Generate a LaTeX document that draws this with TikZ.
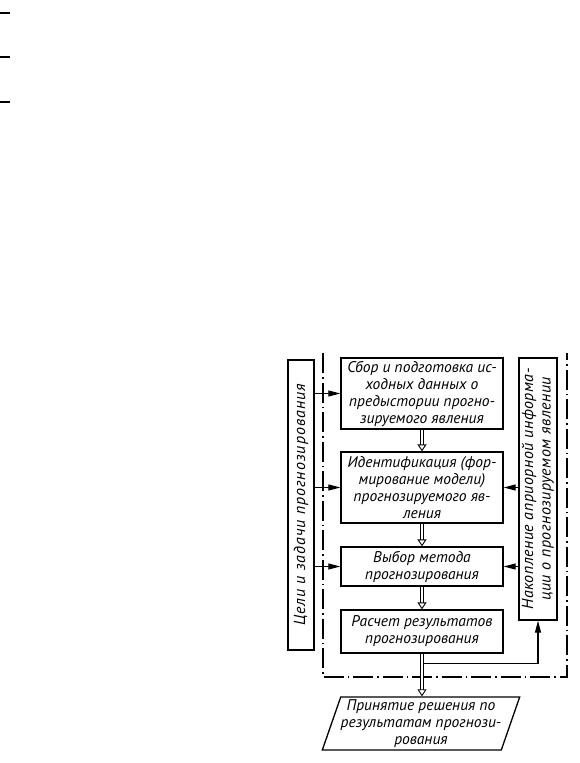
\documentclass[tikz,border=0pt]{standalone}
\usepackage{fontspec}
\setmainfont{PT Sans}
\usetikzlibrary{arrows.meta,positioning,shapes.geometric}

\begin{document}
\begin{tikzpicture}[x=1pt, y=-1pt,
    txt/.style={font=\fontsize{15.5}{17}\selectfont\itshape},
    sidetxt/.style={font=\fontsize{16}{17.5}\selectfont\itshape\addfontfeature{LetterSpace=3}},
    blk/.style={txt, draw, line width=1.3pt, minimum width=162pt,
      align=center, inner sep=1pt},
    sidebox/.style={sidetxt, draw, line width=1.3pt, rotate=90,
      align=center, inner sep=1pt},
    decision/.style={txt, draw, line width=1.3pt, trapezium,
      trapezium left angle=69, trapezium right angle=111,
      trapezium stretches=true, minimum width=195pt, minimum height=53pt,
      align=center, inner sep=0pt},
    feed/.style={line width=1.1pt, -{Triangle[length=12pt, width=6pt]}},
    flow/.style={double, double distance=2.5pt, line width=0.9pt,
      -{Triangle[open, length=7pt, width=9pt]}},
    frame/.style={line width=1.2pt, dash pattern=on 20pt off 4pt on 1.5pt off 4pt},
    stray/.style={line width=1.2pt},
  ]
  \useasboundingbox (0,0) rectangle (579,763);

  %% ── stray marks at the top ──────────────────────────────────────────
  \foreach \yy in {13,57,102}
    \draw[stray] (0,\yy) -- (10,\yy);

  %% ── main chain ──────────────────────────────────────────────────────
  \node[blk, minimum height=71pt] (sbor) at (422,393.5)
    {Сбор и подготовка ис-\\ходных данных о\\предыстории прогно-\\зируемого явления};
  \node[blk, minimum height=71pt] (ident) at (422,487.5)
    {Идентификация (фор-\\мирование модели)\\прогнозируемого яв-\\ления};
  \node[blk, minimum height=39pt] (vybor) at (422,566.5)
    {Выбор метода\\прогнозирования};
  \node[blk, minimum height=43pt] (raschet) at (422,631.5)
    {Расчет результатов\\прогнозирования};
  \node[decision] (prinyat) at (421,723.5)
    {Принятие решения по\\результатам прогнози-\\рования};

  %% ── side boxes ──────────────────────────────────────────────────────
  \node[sidebox, minimum width=290pt, minimum height=26pt] (celi) at (301,505)
    {\addfontfeature{LetterSpace=6}Цели и задачи прогнозирования};
  \node[sidebox, minimum width=262pt, minimum height=38pt] (nakop) at (538,489)
    {Накопление априорной информа-\\ции о прогнозируемом явлении};

  %% ── dash-dot frame ──────────────────────────────────────────────────
  \draw[frame] (323,353) -- (323,677) -- (567,677) -- (567,353);

  %% ── flow between steps ──────────────────────────────────────────────
  \draw[flow] (sbor) -- (ident);
  \draw[flow] (ident) -- (vybor);
  \draw[flow] (vybor) -- (raschet);
  \draw[flow] (raschet.south) -- (raschet.south |- prinyat.north);

  %% ── goals and a-priori info ─────────────────────────────────────────
  \foreach \b in {sbor, ident, vybor}
    \draw[feed] (\b.west -| celi.south) -- (\b.west);
  \foreach \b in {ident, vybor}
    \draw[feed] (\b.east -| nakop.north) -- (\b.east);

  %% ── feedback to accumulation ────────────────────────────────────────
  \coordinate (tap) at ([xshift=2pt, yshift=-10pt]raschet.south);
  \draw[feed] (tap) -| (nakop.west);

\end{tikzpicture}
\end{document}
